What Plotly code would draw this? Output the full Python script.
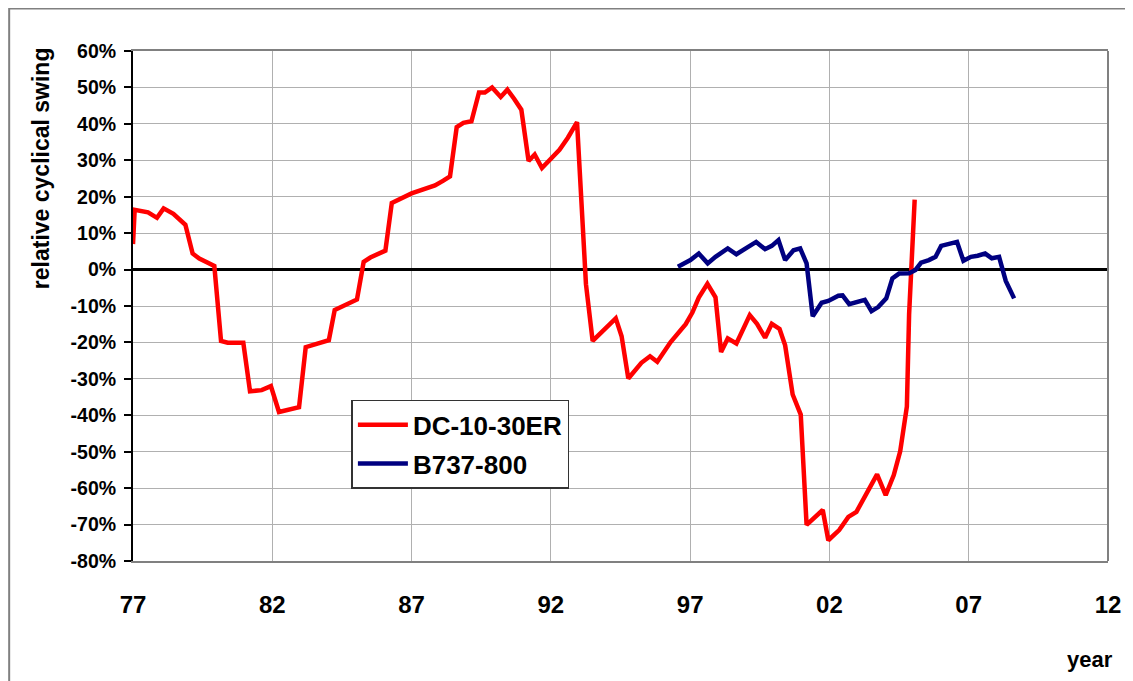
import plotly.graph_objects as go

# DC-10-30ER relative cyclical swing (year as 77..112, value in %)
dc10_year = [77.0, 77.06, 77.54, 77.86, 78.1, 78.45, 78.88, 79.14, 79.38, 79.92,
             80.16, 80.4, 80.96, 81.2, 81.62, 81.95, 82.24, 82.96, 83.2, 83.43,
             83.73, 84.03, 84.24, 84.53, 85.04, 85.28, 85.52, 86.06, 86.29, 87.0,
             87.49, 87.84, 88.14, 88.38, 88.62, 88.86, 89.15, 89.42, 89.63, 89.89,
             90.2, 90.44, 90.68, 90.94, 91.2, 91.42, 91.68, 92.01, 92.31, 92.61,
             92.94, 93.26, 93.5, 94.33, 94.54, 94.78, 95.25, 95.56, 95.82, 96.3,
             96.84, 97.08, 97.31, 97.62, 97.91, 98.11, 98.35, 98.66, 99.14, 99.4,
             99.69, 99.93, 100.21, 100.41, 100.68, 100.97, 101.18, 101.76, 101.96, 102.35,
             102.68, 102.97, 103.35, 103.71, 104.02, 104.31, 104.54, 104.78, 104.86, 105.06]
dc10_swing = [7, 16.4, 15.7, 14.2, 16.8, 15.3, 12.3, 4.4, 3.0, 1.0,
              -19.6, -20.1, -20.1, -33.4, -33.1, -32.0, -39.1, -37.8, -21.3, -20.8,
              -19.9, -19.4, -11.1, -10.0, -8.2, 2.1, 3.3, 5.2, 18.3, 20.9,
              22.1, 23.1, 24.4, 25.6, 39.1, 40.3, 40.7, 48.6, 48.6, 50.0,
              47.4, 49.4, 46.9, 43.9, 29.8, 31.6, 27.9, 30.4, 32.9, 36.2,
              40.5, -4.0, -19.6, -13.4, -18.3, -29.9, -25.6, -23.8, -25.3, -19.9,
              -15.0, -11.8, -7.7, -3.9, -7.6, -22.6, -18.9, -20.3, -12.5, -14.9,
              -18.7, -14.9, -16.3, -20.8, -34.3, -39.8, -70.1, -66.0, -74.3, -71.5,
              -67.9, -66.5, -61.4, -56.2, -61.9, -56.4, -49.9, -37.6, -12.3, 19.2]

# B737-800
b737_year = [96.56, 97.01, 97.31, 97.63, 97.91, 98.11, 98.35, 98.66, 98.94, 99.37,
             99.69, 99.93, 100.17, 100.41, 100.71, 100.95, 101.18, 101.4, 101.72, 101.96,
             102.32, 102.47, 102.71, 103.27, 103.51, 103.75, 104.04, 104.26, 104.5, 104.86,
             105.09, 105.29, 105.57, 105.81, 106.01, 106.28, 106.58, 106.81, 107.08, 107.32,
             107.59, 107.83, 108.09, 108.33, 108.63]
b737_swing = [0.8, 2.6, 4.4, 1.7, 3.5, 4.4, 5.8, 4.2, 5.6, 7.6,
              5.6, 6.5, 8.1, 2.6, 5.3, 5.8, 1.7, -12.8, -9.1, -8.6,
              -7.2, -7.1, -9.5, -8.3, -11.4, -10.3, -7.9, -2.4, -1.1, -1.0,
              -0.1, 1.9, 2.6, 3.5, 6.5, 7.0, 7.6, 2.4, 3.5, 3.8,
              4.4, 3.1, 3.5, -3.1, -7.9]

x_tickvals = [77, 82, 87, 92, 97, 102, 107, 112]
x_ticktext = ["77", "82", "87", "92", "97", "02", "07", "12"]
y_tickvals = list(range(-80, 61, 10))
y_ticktext = [f"{v}%" for v in y_tickvals]

FONT = "Liberation Sans, Arial, sans-serif"

fig = go.Figure()
fig.add_trace(go.Scatter(x=dc10_year, y=dc10_swing, mode="lines", name="DC-10-30ER",
                         line=dict(color="#ff0000", width=4.5), legendgroup="a"))
fig.add_trace(go.Scatter(x=b737_year, y=b737_swing, mode="lines", name="B737-800",
                         line=dict(color="#000080", width=4.5), legendgroup="b"))

# page body has an 8px margin, so the figure is 8px smaller than the window
fig.update_layout(
    width=1125, height=673,
    margin=dict(l=125, r=20, t=43, b=120),
    paper_bgcolor="white", plot_bgcolor="white",
    font=dict(family=FONT, color="black"),
    showlegend=True,
    legend=dict(x=0.224, y=0.316, xanchor="left", yanchor="top",
                bgcolor="white", bordercolor="#333333", borderwidth=1.5,
                font=dict(family=FONT, size=26, weight="bold"),
                itemwidth=50, tracegroupgap=2),
    xaxis=dict(range=[77, 112], tickvals=x_tickvals, ticktext=x_ticktext,
               showgrid=True, gridcolor="#b0b0b0", gridwidth=1.3,
               showline=True, linecolor="#808080", linewidth=2, mirror=True,
               ticks="", ticklabelstandoff=21, zeroline=False,
               tickfont=dict(family=FONT, size=24, weight="bold")),
    yaxis=dict(range=[-80, 60], tickvals=y_tickvals, ticktext=y_ticktext,
               showgrid=True, gridcolor="#b0b0b0", gridwidth=1.3,
               showline=True, linecolor="black", linewidth=2,
               ticks="outside", ticklen=7, tickwidth=1.5, tickcolor="black",
               ticklabelstandoff=4,
               zeroline=True, zerolinecolor="black", zerolinewidth=3,
               tickfont=dict(family=FONT, size=19.5, weight="bold")),
    shapes=[
        # right border of plot area
        dict(type="line", xref="paper", yref="paper", x0=1, x1=1, y0=0, y1=1,
             line=dict(color="#808080", width=2)),
        # outer chart frame
        dict(type="rect", xref="paper", yref="paper", x0=-0.127, x1=1.06,
             y0=-0.3, y1=1.0833, line=dict(color="#808080", width=2)),
    ],
    annotations=[
        dict(text="relative cyclical swing", xref="paper", yref="paper",
             x=-0.095, y=0.771, xanchor="center", yanchor="middle",
             textangle=-90, showarrow=False,
             font=dict(family=FONT, size=23, weight="bold")),
        dict(text="year", xref="paper", yref="paper", x=0.982, y=-0.193,
             xanchor="center", yanchor="middle",
             showarrow=False, font=dict(family=FONT, size=22, weight="bold")),
    ],
)

fig.write_html("out.html")
